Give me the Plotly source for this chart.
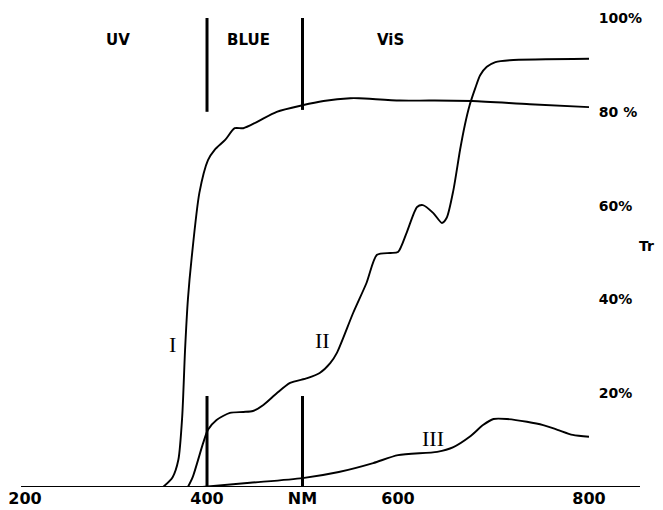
import plotly.graph_objects as go

# ---- data ----
curve_I_nm = [354, 364, 370, 374, 377, 380, 384, 392, 401, 408, 419, 429, 438, 452, 473, 500, 522, 550, 559, 602, 634, 678, 738, 800]
curve_I_tr = [0, 2.1, 5.8, 14.9, 29.2, 40.0, 49.0, 62.7, 69.7, 71.9, 74.0, 76.5, 76.5, 77.8, 80.0, 81.4, 82.3, 82.9, 82.9, 82.4, 82.4, 82.3, 81.6, 81.0]

curve_II_nm = [380, 385, 396, 401, 410, 424, 438, 448, 459, 473, 487, 505, 518, 529, 536, 553, 567, 578, 592, 600, 609, 620, 626, 637, 646, 651, 658, 665, 670, 675, 681, 686, 693, 702, 717, 800]
curve_II_tr = [0, 2.1, 9.4, 12.2, 14.3, 15.8, 16.0, 16.2, 17.5, 20.0, 22.2, 23.2, 24.3, 26.4, 28.6, 37.1, 43.5, 49.5, 49.9, 50.1, 54.2, 59.7, 60.1, 58.4, 56.3, 57.4, 63.3, 71.9, 77.2, 81.4, 85.1, 87.8, 89.6, 90.6, 91.0, 91.3]

curve_III_nm = [395, 445, 500, 538, 574, 600, 641, 658, 675, 689, 700, 714, 735, 752, 767, 783, 800]
curve_III_tr = [0, 0.9, 1.9, 3.2, 5.1, 6.8, 7.5, 8.5, 10.7, 13.2, 14.5, 14.5, 13.9, 13.2, 12.2, 11.1, 10.7]

curve_names = ["I", "II", "III"]
curve_label_nm = [364, 521, 637]
curve_label_tr = [30.3, 31.3, 10.4]

x_tick_vals = [200, 400, 500, 600, 800]
x_tick_text = ["200", "400", "NM", "600", "800"]
y_tick_vals = [20, 40, 60, 80, 100]
y_tick_text = ["20%", "40%", "60%", "80 %", "100%"]

band_names = ["UV", "BLUE", "ViS"]
band_label_nm = [307, 443, 592]
band_label_tr = 95.3
divider_nm = [400, 500]
divider_top = [(100.2, 80.0), (100.2, 80.4)]
divider_bottom = (0, 19.4)

X_RANGE = [193.7, 853.4]
BOLD = dict(family="DejaVu Sans", color="black", weight="bold")

fig = go.Figure()
for xs, ys in [(curve_I_nm, curve_I_tr), (curve_II_nm, curve_II_tr), (curve_III_nm, curve_III_tr)]:
    fig.add_trace(go.Scatter(x=xs, y=ys, mode="lines",
                             line=dict(color="black", width=1.9, shape="spline", smoothing=0.7),
                             showlegend=False, hoverinfo="skip", cliponaxis=False))
# empty trace so the secondary x axis (carrying the left-most tick label) is drawn
fig.add_trace(go.Scatter(x=[], y=[], xaxis="x2", showlegend=False, hoverinfo="skip"))

# divider lines
for d, (top0, top1) in zip(divider_nm, divider_top):
    fig.add_shape(type="line", xref="x", yref="y", x0=d, x1=d, y0=top0, y1=top1,
                  line=dict(color="black", width=3))
    fig.add_shape(type="line", xref="x", yref="y", x0=d, x1=d, y0=divider_bottom[0], y1=divider_bottom[1],
                  line=dict(color="black", width=3))

# baseline
fig.add_shape(type="line", xref="paper", yref="y", x0=0.0175, x1=1.0, y0=0, y1=0,
              line=dict(color="black", width=2))

annotations = []
for name, xv, yv in zip(curve_names, curve_label_nm, curve_label_tr):
    annotations.append(dict(x=xv, y=yv, xref="x", yref="y", text=name, showarrow=False,
                            font=dict(family="Liberation Serif", size=22, color="black")))
for name, xv in zip(band_names, band_label_nm):
    annotations.append(dict(x=xv, y=band_label_tr, xref="x", yref="y", text=name, showarrow=False,
                            font=dict(size=15, **BOLD)))
annotations.append(dict(x=1.0, y=0.514, xref="paper", yref="paper", text="Tr", showarrow=False,
                        xanchor="left", xshift=-3, font=dict(size=14, **BOLD)))

# page has an 8px body margin, so the figure is 655x502 placed at (8, 8)
fig.update_layout(
    width=655, height=502,
    margin=dict(l=2, r=23, t=10, b=23, autoexpand=False),
    paper_bgcolor="white", plot_bgcolor="white",
    annotations=annotations,
    xaxis=dict(range=X_RANGE, tickmode="array", tickvals=x_tick_vals[1:], ticktext=x_tick_text[1:],
               showgrid=False, zeroline=False, showline=False, ticks="", automargin=False,
               ticklabeloverflow="allow", tickfont=dict(size=16, **BOLD)),
    xaxis2=dict(range=X_RANGE, overlaying="x", anchor="y", side="bottom", tickmode="array",
                tickvals=x_tick_vals[:1], ticktext=x_tick_text[:1], ticklabelshift=9,
                showgrid=False, zeroline=False, showline=False, ticks="", automargin=False,
                ticklabeloverflow="allow", tickfont=dict(size=16, **BOLD)),
    yaxis=dict(range=[0, 100], tickmode="array", tickvals=y_tick_vals, ticktext=y_tick_text,
               side="right", anchor="free", position=0.933, showgrid=False, zeroline=False,
               showline=False, ticks="", automargin=False, ticklabeloverflow="allow",
               tickfont=dict(size=14, **BOLD)),
)

fig.write_html("out.html")
